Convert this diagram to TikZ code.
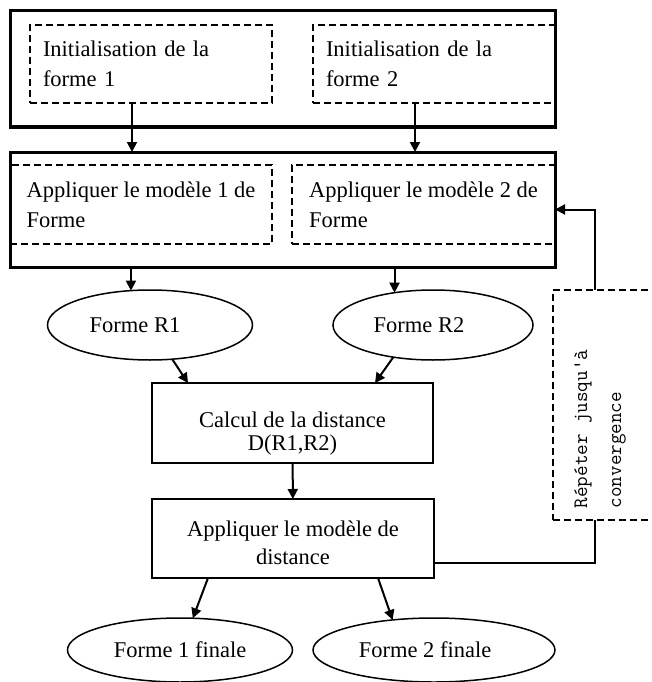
\documentclass[tikz,border=0pt]{standalone}
\usepackage{fontspec}
\setmainfont{Liberation Serif}
\usetikzlibrary{shapes.geometric,arrows.meta}

\begin{document}
\begin{tikzpicture}[x=1pt,y=-1pt]
\tikzstyle{every node}=[inner sep=0pt, outer sep=0pt, font=\fontsize{22.5}{30}\selectfont]
\tikzstyle{bigbox}=[draw, line width=3pt, minimum width=545pt]
\tikzstyle{dashbox}=[draw, line width=2pt, dash pattern=on 7pt off 4pt, align=left]
\tikzstyle{stepbox}=[draw, line width=2.5pt, align=center]
\tikzstyle{formeshape}=[draw, ellipse, line width=1.5pt]
\tikzstyle{every path}=[>={Triangle[length=10pt,width=10pt]}]
\fill[white] (0,0) rectangle (652,682);
\useasboundingbox (0,0) rectangle (652,682);

% initialisation
\node[bigbox, minimum height=116pt] (init) at (282.5,69) {};
\node[dashbox, minimum width=242pt, minimum height=78pt, text width=216pt] (initA) at (151,64)
  {Initialisation de la\\forme 1};
\node[dashbox, minimum width=242pt, minimum height=78pt, text width=216pt] (initB) at (434,64)
  {Initialisation de la\\forme 2};

% modeles de forme
\node[bigbox, minimum height=115pt] (apply) at (282.5,209.5) {};
\node[dashbox, minimum width=262pt, minimum height=79pt] (applyA) at (141,204.5)
  {Appliquer le modèle 1 de\\Forme};
\node[dashbox, minimum width=263pt, minimum height=79pt] (applyB) at (423.5,204.5)
  {Appliquer le modèle 2 de\\Forme};

\node[formeshape, minimum width=205pt, minimum height=70pt, label={[xshift=-15pt]center:Forme R1}] (r1) at (150,325) {};
\node[formeshape, minimum width=200pt, minimum height=70pt, label={[xshift=-14pt]center:Forme R2}] (r2) at (433,325) {};

\node[stepbox, minimum width=281pt, minimum height=80pt,
  label={[yshift=-11pt, align=center, font=\fontsize{22.5}{23}\selectfont]center:Calcul de la distance\\D(R1,R2)}]
  (calc) at (292.5,423) {};
\node[stepbox, minimum width=282pt, minimum height=79pt,
  label={[yshift=-4pt, align=center, font=\fontsize{22.5}{28}\selectfont]center:Appliquer le modèle de\\distance}]
  (dist) at (293,538.5) {};

\node[formeshape, minimum width=225pt, minimum height=64pt] (fin1) at (180,650) {Forme 1 finale};
\node[formeshape, minimum width=242pt, minimum height=64pt, label={[xshift=-9pt]center:Forme 2 finale}] (fin2) at (434,650) {};

% boucle
\node[draw, line width=2pt, dash pattern=on 7pt off 4pt, minimum width=103pt, minimum height=230pt] (rep) at (604.5,405) {};
\node[rotate=90, align=left, font=\ttfamily\fontsize{20.5}{34}\selectfont] (reptext) at (600,429)
  {Répéter jusqu'à\\convergence};

\draw[->, line width=2pt] ([xshift=-19pt]initA.south) -- ([xshift=-19pt]initA.south |- apply.north);
\draw[->, line width=2pt] ([xshift=-19pt]initB.south) -- ([xshift=-19pt]initB.south |- apply.north);
\draw[->, line width=2pt] (r1.119 |- apply.south) -- (r1.119);
\draw[->, line width=2pt] (r2.140 |- apply.south) -- (r2.140);
\draw[->, line width=2pt] (r1.-57) -- ([xshift=-104.5pt]calc.north);
\draw[->, line width=2pt] (r2.219) -- ([xshift=82.5pt]calc.north);
\draw[->, line width=2pt] (calc) -- (dist);
\draw[->, line width=2pt] ([xshift=-85pt]dist.south) -- (fin1.68);
\draw[->, line width=2pt] ([xshift=85pt]dist.south) -- (fin2.144);
\draw[line width=2pt] ([yshift=-24.5pt]dist.east) -| ([xshift=-9.5pt]rep.south);
\draw[->, line width=2pt] ([xshift=-10pt]rep.north) |- (apply.east);
\end{tikzpicture}
\end{document}
